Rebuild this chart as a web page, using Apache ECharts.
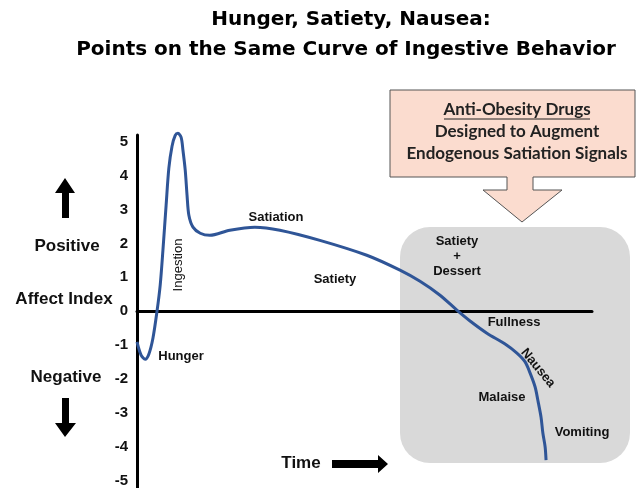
<!DOCTYPE html>
<html>
<head>
<meta charset="utf-8">
<script src="https://cdn.jsdelivr.net/npm/echarts@6/dist/echarts.min.js"></script>
<style>
  html, body { margin: 0; padding: 0; background: #fff; }
  #chart { width: 638px; height: 488px; }
</style>
</head>
<body>
<div id="chart"></div>
<script>
  // time (arbitrary units 0-100) and affect index
  var timeVals = [0, 0.9, 1.8, 2.6, 3.5, 4.4, 5.1, 5.7, 6.4, 7.0, 7.7, 8.4, 9.0, 9.7, 10.1, 10.6, 11.0, 11.4,
    12.3, 13.9, 16.0, 20.4, 25.9, 31.4, 40.2, 50.5, 57.8, 62.2, 66.6, 70.3, 73.2, 76.9, 80.9, 83.5, 85.3,
    86.4, 87.5, 88.1, 88.8, 89.2, 89.7, 89.9];
  var affectVals = [-0.91, -1.30, -1.42, -1.27, -0.80, 0, 0.77, 1.80, 3.13, 4.22, 4.87, 5.19, 5.25, 5.13, 4.75,
    4.16, 3.42, 2.83, 2.48, 2.30, 2.24, 2.39, 2.48, 2.39, 2.09, 1.65, 1.21, 0.88, 0.47, 0.03, -0.29, -0.65,
    -0.97, -1.24, -1.50, -1.83, -2.24, -2.63, -3.13, -3.60, -4.01, -4.40];
  var yTicks = [-5, -4, -3, -2, -1, 0, 1, 2, 3, 4, 5];

  var curveData = timeVals.map(function(t, i) { return [t, affectVals[i]]; });

  var labelFont = 'bold 13px "Liberation Sans", Arial, sans-serif';
  var sideFont = 'bold 17px "Liberation Sans", Arial, sans-serif';
  var boxFont = 'bold 17px Lato, "Open Sans", sans-serif';
  var titleFont = 'bold 20px "DejaVu Sans", sans-serif';

  function txt(text, x, y, font, extra, color) {
    var el = {
      type: 'text', x: x, y: y, z: 5,
      style: { text: text, font: font, fill: color || '#111', align: 'center', verticalAlign: 'middle' }
    };
    if (extra) { for (var k in extra) el[k] = extra[k]; }
    return el;
  }

  var option = {
    animation: false,
    backgroundColor: '#fff',
    grid: { left: 137, right: 46, top: 135, bottom: 0 },
    xAxis: {
      type: 'value', min: 0, max: 100,
      axisLine: { onZero: true, lineStyle: { color: '#000', width: 3 } },
      axisTick: { show: false },
      axisLabel: { show: false },
      splitLine: { show: false }
    },
    yAxis: {
      type: 'value', min: -5.2, max: 5.2,
      axisLine: { show: true, lineStyle: { color: '#000', width: 3 } },
      axisTick: { show: false },
      splitLine: { show: false },
      axisLabel: {
        customValues: yTicks,
        margin: 9,
        color: '#111',
        fontWeight: 'bold',
        fontSize: 15,
        fontFamily: '"Liberation Sans", Arial, sans-serif'
      }
    },
    graphic: [
      // shaded region
      { type: 'rect', z: -1, shape: { x: 400, y: 227, width: 230, height: 236, r: 30 },
        style: { fill: '#d9d9d9' } },
      // callout box with arrow
      { type: 'polygon', z: 1,
        shape: { points: [[390, 90], [635, 90], [635, 177], [533, 177], [533, 190], [562, 190], [522, 222],
          [483, 190], [507, 190], [507, 177], [390, 177]] },
        style: { fill: '#fbdccf', stroke: '#555', lineWidth: 1 } },
      txt('Anti-Obesity Drugs', 517, 110, boxFont, null, '#222'),
      { type: 'line', z: 5, shape: { x1: 444, y1: 119, x2: 590, y2: 119 }, style: { stroke: '#222', lineWidth: 1 } },
      txt('Designed to Augment', 517, 132, boxFont, null, '#222'),
      txt('Endogenous Satiation Signals', 517, 154, boxFont, null, '#222'),
      // title
      txt('Hunger, Satiety, Nausea:', 351, 20, titleFont, null, '#000'),
      txt('Points on the Same Curve of Ingestive Behavior', 346, 50, titleFont, null, '#000'),
      // left side labels and arrows
      txt('Positive', 67, 246, sideFont),
      txt('Affect Index', 64, 299, sideFont),
      txt('Negative', 66, 377, sideFont),
      { type: 'polygon', z: 5, shape: { points: [[65, 178], [75, 193], [69, 193], [69, 218], [62, 218], [62, 193], [55, 193]] },
        style: { fill: '#000' } },
      { type: 'polygon', z: 5, shape: { points: [[62, 398], [69, 398], [69, 423], [76, 423], [65, 437], [55, 423], [62, 423]] },
        style: { fill: '#000' } },
      txt('Time', 301, 463, sideFont),
      { type: 'polygon', z: 5, shape: { points: [[332, 460], [378, 460], [378, 455], [388, 464], [378, 473], [378, 468], [332, 468]] },
        style: { fill: '#000' } },
      // curve annotations
      txt('Hunger', 181, 356, labelFont),
      txt('Ingestion', 178, 265, '13px "Liberation Sans", Arial, sans-serif', { rotation: Math.PI / 2 }),
      txt('Satiation', 276, 217, labelFont),
      txt('Satiety', 335, 279, labelFont),
      txt('Satiety', 457, 241, labelFont),
      txt('+', 457, 256, labelFont),
      txt('Dessert', 457, 271, labelFont),
      txt('Fullness', 514, 322, labelFont),
      txt('Nausea', 538, 368, labelFont, { rotation: -0.88 }),
      txt('Malaise', 502, 397, labelFont),
      txt('Vomiting', 582, 432, labelFont)
    ],
    series: [{
      type: 'line',
      data: curveData,
      smooth: 0.3,
      clip: false,
      showSymbol: false,
      z: 3,
      lineStyle: { color: '#2f5597', width: 3 }
    }]
  };

  var chart = echarts.init(document.getElementById('chart'));
  chart.setOption(option);
</script>
</body>
</html>
